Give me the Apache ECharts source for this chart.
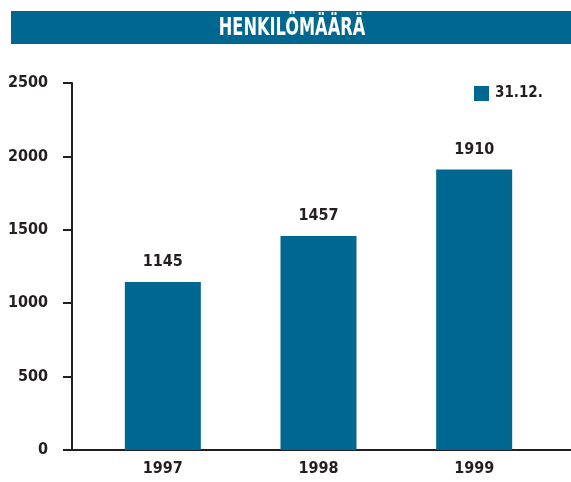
<!DOCTYPE html>
<html><head><meta charset="utf-8">
<script src="https://cdn.jsdelivr.net/npm/echarts@6/dist/echarts.min.js"></script>
<style>html,body{margin:0;padding:0;background:#fff}#c{width:571px;height:482px}</style>
</head><body><div id="c"></div>
<script>
var titleText = 'HENKILÖMÄÄRÄ';
var categories = ['1997', '1998', '1999'];
var seriesName = '31.12.';
var values = [1145, 1457, 1910];
var yMin = 0, yMax = 2500, yInterval = 500;

var FONT = '"Liberation Sans Narrow", "DejaVu Sans Condensed", "Roboto", sans-serif';
var TEAL = '#006890';
var DARK = '#231f20';

var chart = echarts.init(document.getElementById('c'), null, {renderer: 'canvas'});
chart.setOption({
  animation: false,
  backgroundColor: '#fff',
  graphic: [
    {type: 'rect', left: 11, top: 11, shape: {width: 560, height: 33}, style: {fill: TEAL}, z: 0},
    {type: 'text', x: 292, y: 28, scaleX: 0.72, style: {text: titleText, fill: '#fff', font: 'bold 25px ' + FONT, textAlign: 'center', textVerticalAlign: 'middle'}, z: 1}
  ],
  legend: {
    data: [seriesName], left: 474, top: 86, padding: 0, itemWidth: 15, itemHeight: 15, itemGap: 6,
    icon: 'rect',
    textStyle: {fontFamily: FONT, fontWeight: 'bold', fontSize: 15, color: DARK, padding: [0, 0, 0, 1]}
  },
  grid: [
    {left: 85, right: 19, top: 83, bottom: 32},
    {left: 72, right: 0, top: 83, bottom: 32}
  ],
  xAxis: [
    {type: 'category', data: categories, gridIndex: 0,
     axisLine: {show: false}, axisTick: {show: false},
     axisLabel: {margin: 11, fontFamily: FONT, fontWeight: 'bold', fontSize: 16, color: DARK}},
    {type: 'value', gridIndex: 1, min: 0, max: 1, show: true,
     axisLine: {show: true, lineStyle: {color: DARK, width: 2}}, axisTick: {show: false},
     axisLabel: {show: false}, splitLine: {show: false}}
  ],
  yAxis: [
    {type: 'value', gridIndex: 0, min: yMin, max: yMax, interval: yInterval, offset: 13,
     axisLine: {show: true, lineStyle: {color: DARK, width: 2}},
     axisTick: {show: true, length: 9, lineStyle: {color: DARK, width: 2}},
     splitLine: {show: false},
     axisLabel: {margin: 24, fontFamily: FONT, fontWeight: 'bold', fontSize: 16, color: DARK,
                 formatter: function (v) { return String(v); }}},
    {type: 'value', gridIndex: 1, min: 0, max: 1, show: false}
  ],
  series: [{
    name: seriesName, type: 'bar', data: values, barWidth: 76,
    xAxisIndex: 0, yAxisIndex: 0,
    itemStyle: {color: TEAL},
    label: {show: true, position: 'top', distance: 12, fontFamily: FONT, fontWeight: 'bold', fontSize: 16, color: DARK}
  }]
});
</script></body></html>
